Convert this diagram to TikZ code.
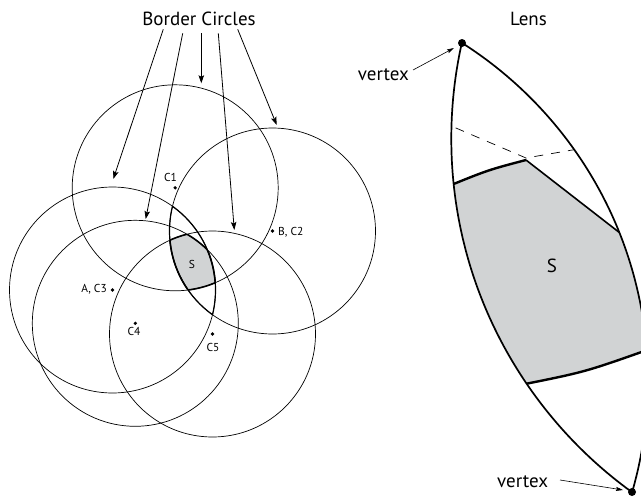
\documentclass[tikz,border=0pt]{standalone}
\usepackage{fontspec}
\setmainfont{PT Sans}
\usetikzlibrary{arrows.meta}
\definecolor{sgray}{HTML}{D1D3D4}
\newcommand\sbound[5]{\begin{scope}
  \clip (#2) circle[radius=103pt];
  \clip (#3) circle[radius=103pt];
  \clip (#4) circle[radius=103pt];
  \clip (#5) circle[radius=103pt];
  \draw[sedge] (#1) circle[radius=103pt];
\end{scope}}
\begin{document}
\begin{tikzpicture}[x=1pt,y=-1pt,
  circ/.style={line width=0.7pt},
  lensarc/.style={line width=1.2pt},
  sedge/.style={line width=1.6pt},
  big/.style={font=\fontsize{19}{22}\selectfont, inner sep=0pt},
  small/.style={font=\fontsize{11.5}{13}\selectfont, inner sep=0pt},
  dot/.style={circle, fill=black, inner sep=0pt, minimum size=3.6pt},
  vdot/.style={circle, fill=black, inner sep=0pt, minimum size=8pt},
  bcarrow/.style={line width=0.8pt, -{Stealth[length=8pt,width=5.5pt,inset=1.5pt]}},
  varrow/.style={line width=0.6pt, -{Stealth[length=7pt,width=4pt,inset=1pt]}},
  rim/.style={line width=1.7pt},
  thickedge/.style={line width=2.4pt},
  inneredge/.style={line width=1.6pt},
  dashline/.style={line width=0.7pt, dash pattern=on 9pt off 8pt},
]
\useasboundingbox (0,0) rectangle (641,498);
\clip (0,0) rectangle (641,498);

% ---------- left: border circles ----------
\coordinate (c1) at (175.2,187.8);
\coordinate (c2) at (272.5,231);
\coordinate (c3) at (112.5,290);
\coordinate (c4) at (135.3,323.3);
\coordinate (c5) at (212.5,334);

\begin{scope}
  \clip (c1) circle[radius=103pt];
  \clip (c2) circle[radius=103pt];
  \clip (c3) circle[radius=103pt];
  \clip (c4) circle[radius=103pt];
  \clip (c5) circle[radius=103pt];
  \fill[sgray] (0,0) rectangle (400,498);
\end{scope}

\foreach \i in {1,...,5} \draw[circ] (c\i) circle[radius=103pt];

\begin{scope}
  \clip (c3) circle[radius=103pt];
  \draw[lensarc] (c2) circle[radius=103pt];
\end{scope}
\begin{scope}
  \clip (c2) circle[radius=103pt];
  \draw[lensarc] (c3) circle[radius=103pt];
\end{scope}

\sbound{c1}{c2}{c3}{c4}{c5}
\sbound{c2}{c1}{c3}{c4}{c5}
\sbound{c3}{c1}{c2}{c4}{c5}
\sbound{c4}{c1}{c2}{c3}{c5}
\sbound{c5}{c1}{c2}{c3}{c4}

\node[dot] (d1) at (c1) {};
\node[dot] (d2) at (c2) {};
\node[dot] (d3) at (c3) {};
\node[dot] (d4) at (c4) {};
\node[dot] (d5) at (c5) {};
\node[small, anchor=base] (l1) at (170.5,181) {C1};
\node[small, anchor=base west] (l2) at (278,235) {B, C2};
\node[small, anchor=base east] (l3) at (107,292.7) {A, C3};
\node[small, anchor=base] (l4) at (134,335.7) {C4};
\node[small, anchor=base] (l5) at (213,351) {C5};
\node[small, anchor=base] (ls) at (192,268) {S};

\node[big, anchor=base] (bc) at (199,25) {Border Circles};
\coordinate (a1s) at (163.3,29.3);  \coordinate (a1e) at (113.3,179);
\coordinate (a2s) at (182.7,33.3);  \coordinate (a2e) at (145.7,219);
\coordinate (a3s) at (201.3,33.3);  \coordinate (a3e) at (201.3,83.3);
\coordinate (a4s) at (218.3,33.3);  \coordinate (a4e) at (234.3,230);
\coordinate (a5s) at (237.7,29.3);  \coordinate (a5e) at (276.7,125);
\draw[bcarrow] (a1s) -- (a1e);
\draw[bcarrow] (a2s) -- (a2e);
\draw[bcarrow] (a3s) -- (a3e);
\draw[bcarrow] (a4s) -- (a4e);
\draw[bcarrow] (a5s) -- (a5e);

% ---------- right: lens ----------
\coordinate (cl) at (887.5,138.6);
\coordinate (cr) at (247.6,380.9);
\begin{scope}
  \clip (cl) circle[radius=436.2pt];
  \clip (cr) circle[radius=400.2pt];
  \fill[sgray] (440,190) -- (445,187.5) .. controls (488,170) .. (526,160)
     -- (680,279.6) -- (680,340) -- (650,349) .. controls (585,372) .. (520,385)
     -- (440,400) -- cycle;
  \draw[dashline] (440,121.2) -- (526,158) -- (600,145.2);
  \draw[inneredge] (526,160) -- (680,279.6);
  \draw[thickedge] (445,187.5) .. controls (488,170) .. (526,160);
  \draw[thickedge] (650,349) .. controls (585,372) .. (520,385);
\end{scope}
\begin{scope}
  \clip (cr) circle[radius=400.2pt];
  \draw[rim] (cl) circle[radius=436.2pt];
\end{scope}
\begin{scope}
  \clip (cl) circle[radius=436.2pt];
  \draw[rim] (cr) circle[radius=400.2pt];
\end{scope}

\node[vdot] (vt) at (462,43) {};
\node[vdot] (vb) at (632,492) {};
\node[big, anchor=base] (lens) at (528.5,25) {Lens};
\node[big, anchor=base] (sr) at (552,272) {S};
\node[big, anchor=base east] (vl1) at (409,80) {vertex};
\node[big, anchor=base west] (vl2) at (497,487) {vertex};
\coordinate (va1s) at (413,70);  \coordinate (va1e) at (454,48);
\coordinate (va2s) at (560,480); \coordinate (va2e) at (623,490);
\draw[varrow] (va1s) -- (va1e);
\draw[varrow] (va2s) -- (va2e);
\end{tikzpicture}
\end{document}
